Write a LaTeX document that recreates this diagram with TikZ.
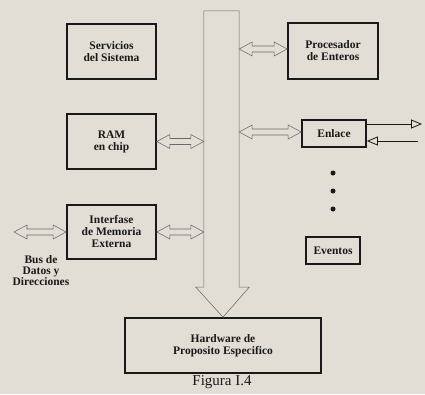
\documentclass[tikz,border=0pt]{standalone}
\usepackage{fontspec}
\setmainfont{Liberation Serif}
\usetikzlibrary{arrows.meta,calc}
\definecolor{paper}{RGB}{226,222,214}
\definecolor{ink}{RGB}{25,25,25}
\definecolor{thin}{RGB}{105,105,105}
\newcommand\dblarrow[2]{%
  \draw[hollow] let \p1=#1, \p2=#2 in
    (\x1,\y1) -- (\x1+13pt,\y1+7pt) -- (\x1+13pt,\y1+3pt) -- (\x2-13pt,\y1+3pt)
    -- (\x2-13pt,\y1+7pt) -- (\x2,\y1) -- (\x2-13pt,\y1-7pt) -- (\x2-13pt,\y1-3pt)
    -- (\x1+13pt,\y1-3pt) -- (\x1+13pt,\y1-7pt) -- cycle;}
\begin{document}
\begin{tikzpicture}[x=1pt,y=-1pt,
  box/.style={draw=ink,line width=1.7pt,inner sep=0pt,align=center,
    font=\bfseries\fontsize{11.5}{12}\selectfont,text=ink},
  lbl/.style={inner sep=0pt,align=center,font=\bfseries\fontsize{11.5}{11}\selectfont,text=ink},
  hollow/.style={draw=thin,line width=0.55pt,fill=paper,line join=miter},
  outarrow/.style={draw=ink,line width=0.8pt,-{Triangle[open,length=11pt,width=9pt,fill=paper]}}]
\fill[paper] (0,0) rectangle (425,394);
\useasboundingbox (0,0) rectangle (425,394);

\node[box,minimum width=89pt,minimum height=55pt] (serv) at (111.5,51.5) {Servicios\\del Sistema};
\node[box,minimum width=90pt,minimum height=56pt] (proc) at (333,51) {Procesador\\de Enteros};
\node[box,minimum width=89pt,minimum height=55pt] (ram) at (111.5,141.5) {RAM\\en chip};
\node[box,minimum width=64pt,minimum height=27pt] (enl) at (334,133.5) {Enlace};
\node[box,minimum width=89pt,minimum height=54pt] (intf) at (111.5,232) {Interfase\\de Memoria\\Externa};
\node[box,minimum width=54pt,minimum height=27pt] (ev) at (333,250.5) {Eventos};
\node[box,minimum width=196pt,minimum height=55pt] (hw) at (223,345.5) {Hardware de\\Proposito Especifico};
\node[inner sep=0pt,minimum width=35pt,minimum height=276pt] (bus) at (221.5,149) {};
\node[lbl] (busdatos) at (41,271) {Bus de\\Datos y\\Direcciones};
\node[inner sep=0pt,font=\fontsize{15}{16}\selectfont,text=ink] (fig) at (222,382) {Figura I.4};

% bus arrow
\draw[hollow] (bus.north west) -- (bus.north east) -- (bus.south east) -- ($(bus.south east)+(10,0)$)
  -- (hw.north) -- ($(bus.south west)+(-8,0)$) -- (bus.south west) -- cycle;

% double arrows
\coordinate (busL) at (14,233);
\dblarrow{($(bus.east |- proc.west)+(0,-2)$)}{($(proc.west)+(0,-2)$)}
\dblarrow{(ram.east)}{(bus.west |- ram.east)}
\dblarrow{($(bus.east |- enl.west)+(0,-1.5)$)}{($(enl.west)+(0,-1.5)$)}
\dblarrow{(intf.east)}{(bus.west |- intf.east)}
\dblarrow{(busL |- intf.west)}{(intf.west)}

% Enlace outputs
\coordinate (o1) at (422,124);
\coordinate (o2) at (418,141);
\draw[outarrow] (enl.east |- o1) -- (o1);
\draw[outarrow] (o2) -- (enl.east |- o2);

% dots
\fill[ink] (333,173) circle (2.5);
\fill[ink] (333,191) circle (2.5);
\fill[ink] (333,209) circle (2.5);
\end{tikzpicture}
\end{document}
